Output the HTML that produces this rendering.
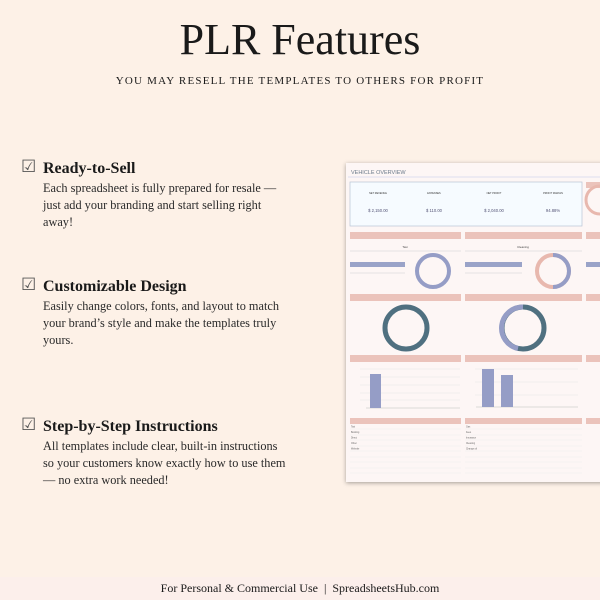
<!DOCTYPE html>
<html><head><style>
body{margin:0;width:600px;height:600px;background:#fdf1e7;position:relative;overflow:hidden;font-family:"Liberation Serif",serif;color:#1a1a1a}
.t{position:absolute;left:0;width:600px;text-align:center}
.h{position:absolute;left:43px;font-weight:bold;font-size:16px}
.p{position:absolute;left:43px;font-size:12.3px;line-height:17px;color:#2a2a2a;white-space:nowrap}
.ck{position:absolute;left:21px;font-size:17px;color:#555}
</style></head><body>
<div class="t" style="top:14px;font-size:44px;">PLR Features</div>
<div class="t" style="top:75px;font-size:11px;letter-spacing:1.2px;">YOU MAY RESELL THE TEMPLATES TO OTHERS FOR PROFIT</div>

<div class="ck" style="top:157px">☑</div>
<div class="h" style="top:160px">Ready-to-Sell</div>
<div class="p" style="top:180px">Each spreadsheet is fully prepared for resale —<br>just add your branding and start selling right<br>away!</div>

<div class="ck" style="top:275px">☑</div>
<div class="h" style="top:278px">Customizable Design</div>
<div class="p" style="top:298px">Easily change colors, fonts, and layout to match<br>your brand’s style and make the templates truly<br>yours.</div>

<div class="ck" style="top:415px">☑</div>
<div class="h" style="top:418px">Step-by-Step Instructions</div>
<div class="p" style="top:438px">All templates include clear, built-in instructions<br>so your customers know exactly how to use them<br>— no extra work needed!</div>

<div style="position:absolute;left:0;top:577px;width:600px;height:23px;background:#fcefeb"></div>
<div class="t" style="top:581px;font-size:12px;">For Personal &amp; Commercial Use &nbsp;|&nbsp; SpreadsheetsHub.com</div>

<svg style="position:absolute;left:0;top:0" width="600" height="600">
<defs><filter id="s" x="-10%" y="-10%" width="120%" height="120%"><feDropShadow dx="0" dy="1" stdDeviation="2" flood-color="#000" flood-opacity="0.35"/></filter></defs>
<rect x="346" y="163" width="260" height="319" fill="#fdf6f5" filter="url(#s)"/>
<text x="351" y="174" font-size="5.5" fill="#6a7a8a" font-family="Liberation Sans">VEHICLE OVERVIEW</text>
<line x1="348" y1="177" x2="600" y2="177" stroke="#dde" stroke-width="1"/>
<rect x="350" y="182" width="232" height="44" fill="#f6fbff" stroke="#b8c4d4" stroke-width="0.7"/>
<g font-family="Liberation Sans" font-size="2.5" fill="#333" text-anchor="middle">
<text x="378" y="194">NET REVENUE</text><text x="434" y="194">EXPENSES</text><text x="494" y="194">NET PROFIT</text><text x="553" y="194">PROFIT MARGIN</text>
</g>
<g font-family="Liberation Sans" font-size="4.2" fill="#557" text-anchor="middle">
<text x="378" y="212">$ 2,150.00</text><text x="434" y="212">$ 110.00</text><text x="494" y="212">$ 2,040.00</text><text x="553" y="212">94.88%</text>
</g>
<rect x="586" y="182" width="20" height="6" fill="#ebc3bb"/>
<g fill="#ebc3bb">
<rect x="350" y="232" width="111" height="7"/><rect x="465" y="232" width="117" height="7"/><rect x="586" y="232" width="20" height="7"/>
<rect x="350" y="294" width="111" height="7"/><rect x="465" y="294" width="117" height="7"/><rect x="586" y="294" width="20" height="7"/>
<rect x="350" y="355" width="111" height="7"/><rect x="465" y="355" width="117" height="7"/><rect x="586" y="355" width="20" height="7"/>
<rect x="350" y="418" width="111" height="6"/><rect x="465" y="418" width="117" height="6"/><rect x="586" y="418" width="20" height="6"/>
</g>
<g font-family="Liberation Sans" font-size="3" fill="#444" text-anchor="middle">
<text x="405" y="248">Taxi</text><text x="523" y="248">Cleaning</text>
</g>
<g stroke="#ddd" stroke-width="0.8">
<line x1="350" y1="251" x2="461" y2="251"/><line x1="465" y1="251" x2="582" y2="251"/>
<line x1="350" y1="273" x2="405" y2="273"/><line x1="465" y1="273" x2="522" y2="273"/>
</g>
<rect x="350" y="262" width="55" height="5" fill="#9aa3c8"/><rect x="465" y="262" width="57" height="5" fill="#9aa3c8"/><rect x="586" y="262" width="20" height="5" fill="#9aa3c8"/>
<circle cx="433" cy="271" r="16" fill="none" stroke="#959dc6" stroke-width="4"/>
<circle cx="553" cy="271" r="16" fill="none" stroke="#e8b8ae" stroke-width="4"/>
<path d="M553 255 A16 16 0 0 1 553 287" fill="none" stroke="#959dc6" stroke-width="4"/>
<circle cx="600" cy="200" r="14" fill="none" stroke="#e8b8ae" stroke-width="3"/>
<circle cx="406" cy="328" r="21" fill="none" stroke="#4f7080" stroke-width="5"/>
<circle cx="523" cy="328" r="21" fill="none" stroke="#4f7080" stroke-width="5"/>
<path d="M523 307 A21 21 0 0 0 518 348.5" fill="none" stroke="#959dc6" stroke-width="5"/>
<g stroke="#e6e6e6" stroke-width="0.6">
<line x1="360" y1="369" x2="460" y2="369"/><line x1="360" y1="377" x2="460" y2="377"/><line x1="360" y1="385" x2="460" y2="385"/><line x1="360" y1="393" x2="460" y2="393"/><line x1="360" y1="400" x2="460" y2="400"/>
<line x1="475" y1="369" x2="578" y2="369"/><line x1="475" y1="382" x2="578" y2="382"/><line x1="475" y1="395" x2="578" y2="395"/>
</g>
<line x1="366" y1="408" x2="460" y2="408" stroke="#bbb" stroke-width="0.6"/><line x1="476" y1="407" x2="578" y2="407" stroke="#bbb" stroke-width="0.6"/>
<rect x="370" y="374" width="11" height="34" fill="#959dc6"/>
<rect x="482" y="369" width="12" height="38" fill="#959dc6"/><rect x="501" y="375" width="12" height="32" fill="#959dc6"/>
<g stroke="#eee" stroke-width="0.6">
<line x1="350" y1="429" x2="461" y2="429"/><line x1="350" y1="435" x2="461" y2="435"/><line x1="350" y1="440" x2="461" y2="440"/><line x1="350" y1="446" x2="461" y2="446"/><line x1="350" y1="451" x2="461" y2="451"/><line x1="350" y1="457" x2="461" y2="457"/><line x1="350" y1="462" x2="461" y2="462"/><line x1="350" y1="468" x2="461" y2="468"/><line x1="350" y1="473" x2="461" y2="473"/>
<line x1="465" y1="429" x2="582" y2="429"/><line x1="465" y1="435" x2="582" y2="435"/><line x1="465" y1="440" x2="582" y2="440"/><line x1="465" y1="446" x2="582" y2="446"/><line x1="465" y1="451" x2="582" y2="451"/><line x1="465" y1="457" x2="582" y2="457"/><line x1="465" y1="462" x2="582" y2="462"/><line x1="465" y1="468" x2="582" y2="468"/><line x1="465" y1="473" x2="582" y2="473"/>
</g>
<g font-family="Liberation Sans" font-size="2.3" fill="#666">
<text x="351" y="427.5">Taxi</text><text x="351" y="433">Booking</text><text x="351" y="438.5">Direct</text><text x="351" y="444">Other</text><text x="351" y="449.5">Website</text>
<text x="466" y="427.5">Gas</text><text x="466" y="433">Fees</text><text x="466" y="438.5">Insurance</text><text x="466" y="444">Cleaning</text><text x="466" y="449.5">Change oil</text>
</g>
</svg>
</body></html>
